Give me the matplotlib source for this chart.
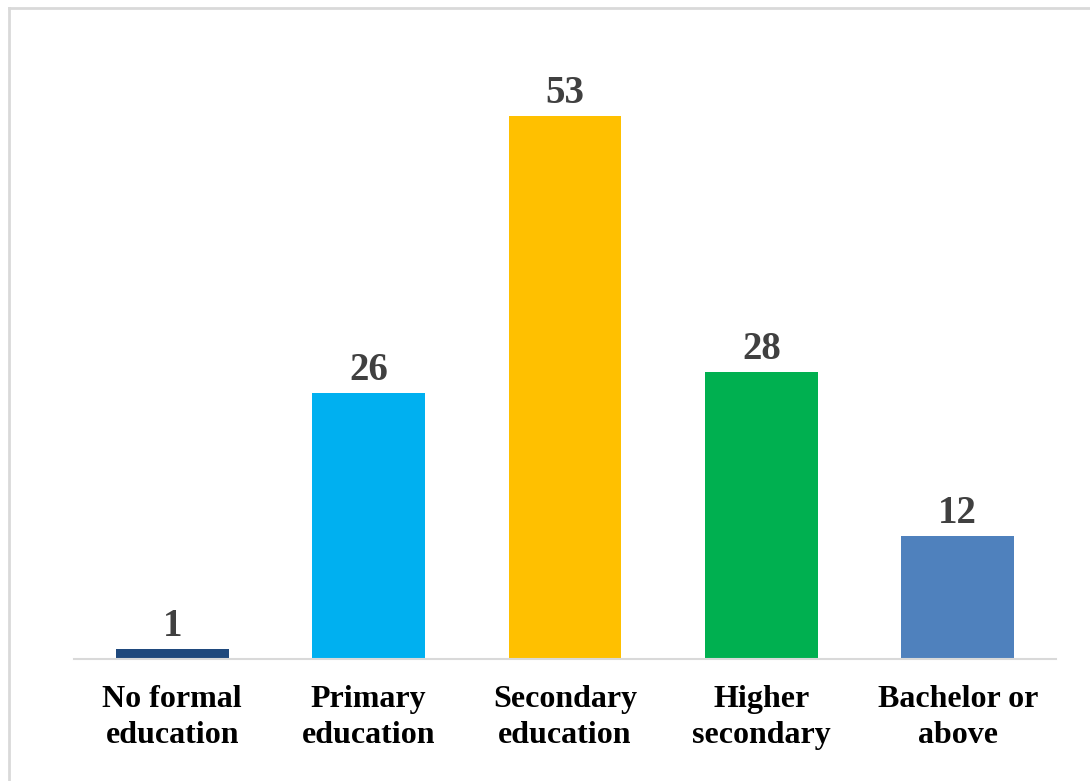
import matplotlib.pyplot as plt
from matplotlib.lines import Line2D

categories = ['No formal\neducation', 'Primary\neducation', 'Secondary\neducation',
              'Higher\nsecondary', 'Bachelor or\nabove']
counts = [1, 26, 53, 28, 12]
colors = ['#1F497D', '#00B0F0', '#FFC000', '#00B050', '#4F81BD']

plt.rcParams['font.family'] = ['Liberation Serif', 'DejaVu Serif']

fig = plt.figure(figsize=(10.9, 7.81), dpi=100)
ax = fig.add_axes([0.0679, 0.1562, 0.9009, 0.7606])

x = range(len(categories))
bars = ax.bar(x, counts, width=0.575, color=colors, zorder=2)

for b, v in zip(bars, counts):
    ax.annotate(str(v), (b.get_x() + b.get_width() / 2, v),
                xytext=(0, 3), textcoords='offset points',
                ha='center', va='bottom', fontsize=28, fontweight='bold',
                color='#404040')

ax.set_xlim(-0.5, len(categories) - 0.5)
ax.set_ylim(0, 58)
ax.set_xticks(list(x))
ax.set_xticklabels(categories, fontsize=23, fontweight='bold', linespacing=1.3)
ax.tick_params(axis='x', length=0, pad=19)
ax.set_yticks([])

for s in ['top', 'right', 'left']:
    ax.spines[s].set_visible(False)
ax.spines['bottom'].set_color('#D9D9D9')
ax.spines['bottom'].set_linewidth(1.5)

# outer frame (left and top edges only)
fig.add_artist(Line2D([0.0083, 0.0083], [0, 0.99], transform=fig.transFigure,
                      color='#D9D9D9', lw=2))
fig.add_artist(Line2D([0.0083, 1.0], [0.99, 0.99], transform=fig.transFigure,
                      color='#D9D9D9', lw=2))

fig.savefig('out.png', dpi=100)
